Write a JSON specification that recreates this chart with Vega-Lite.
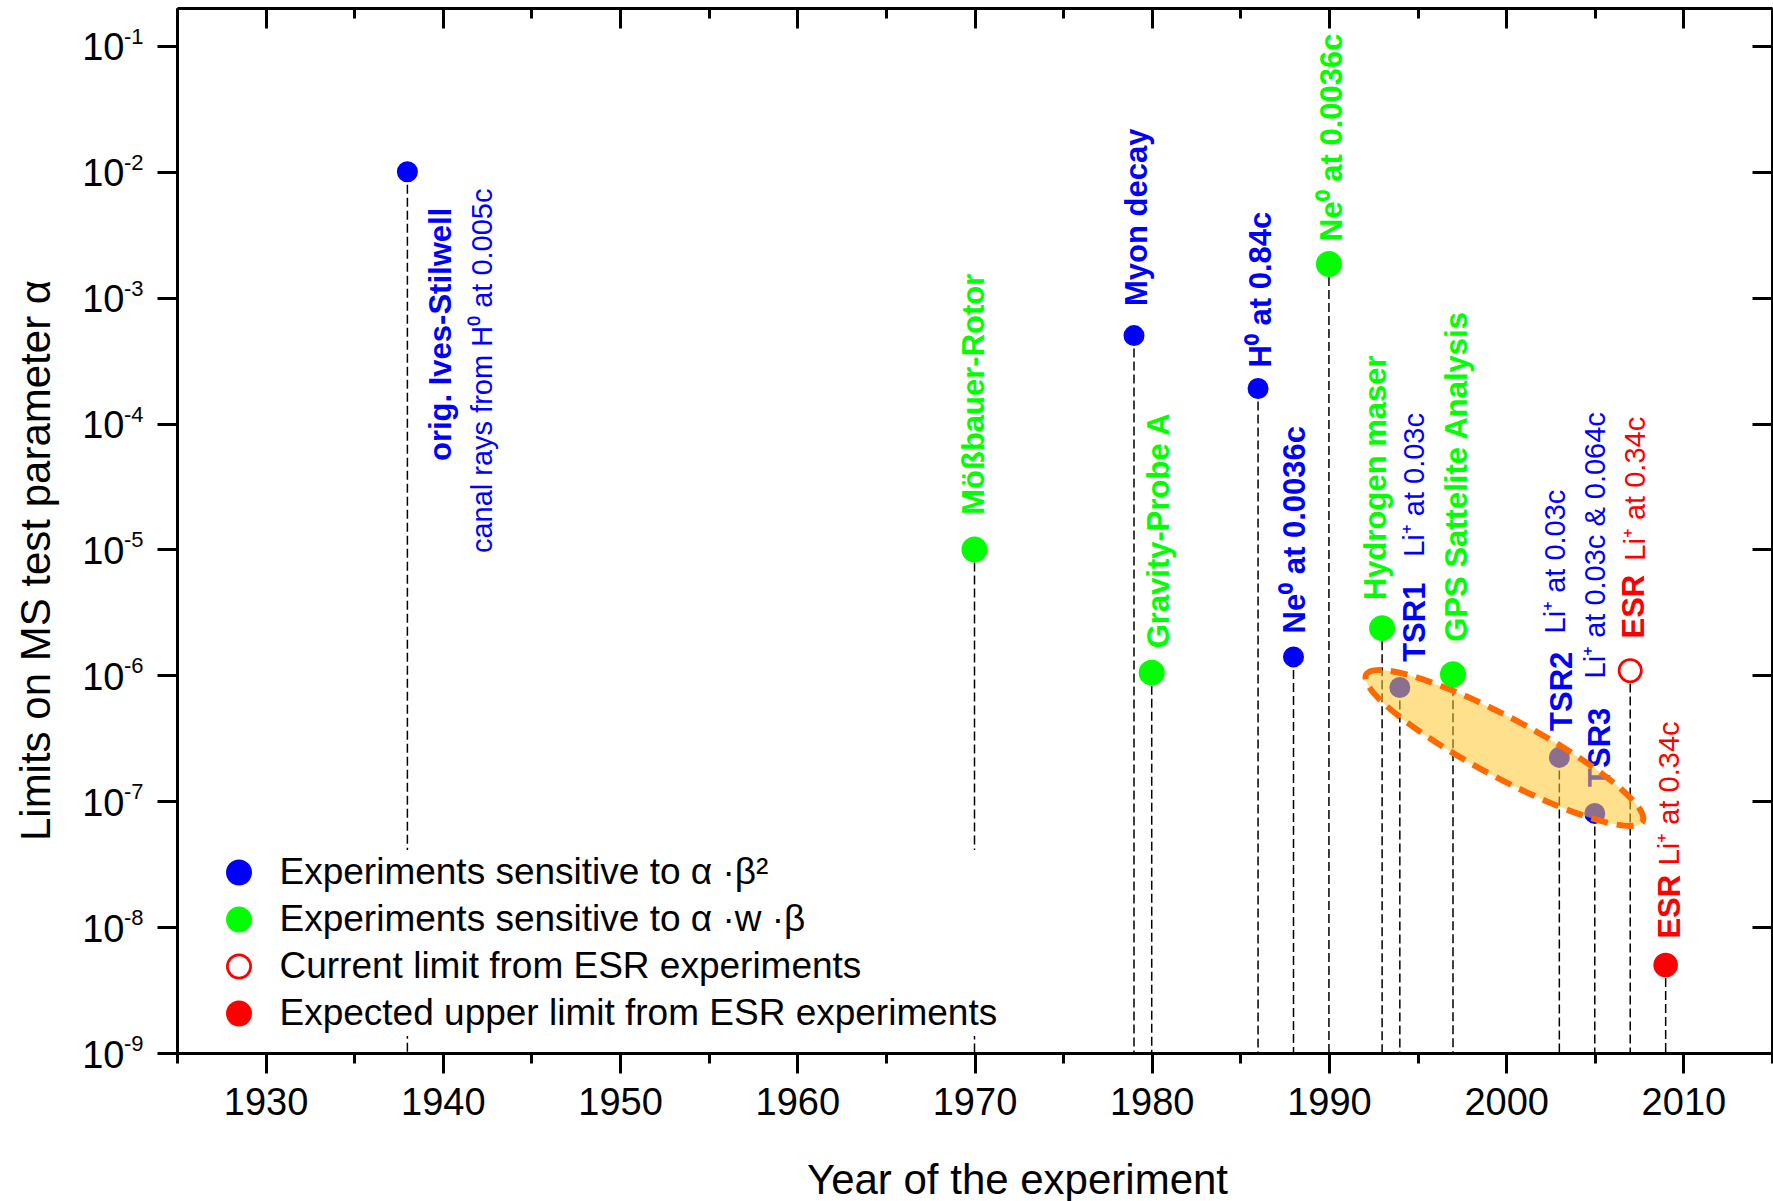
{
  "$schema": "https://vega.github.io/schema/vega-lite/v6.json",
  "width": 1595,
  "height": 1045,
  "autosize": {"type": "none"},
  "padding": {"left": 177, "top": 8, "right": 1, "bottom": 148},
  "background": "white",
  "config": {
    "view": {"stroke": null},
    "font": "Liberation Sans",
    "axis": {
      "grid": false, "domainColor": "black", "domainWidth": 3, "tickColor": "black", "tickWidth": 3,
      "labelColor": "black", "titleColor": "black", "labelFont": "Liberation Sans", "titleFont": "Liberation Sans",
      "titleFontWeight": "normal", "labelOverlap": false, "labelBound": false, "labelFlush": false
    },
    "legend": {
      "labelFontSize": 37, "labelFont": "Liberation Sans", "labelColor": "black", "labelLimit": 1200,
      "symbolSize": 540, "symbolStrokeWidth": 2.7, "symbolType": "circle", "symbolOpacity": 1,
      "rowPadding": 9, "labelOffset": 22, "padding": 4
    }
  },
  "datasets": {
    "experiments": [
      {"name": "orig. Ives-Stilwell", "year": 1938, "alpha": 1e-2, "series": "Experiments sensitive to α ·β²"},
      {"name": "Mößbauer-Rotor", "year": 1970, "alpha": 1e-5, "series": "Experiments sensitive to α ·w ·β"},
      {"name": "Myon decay", "year": 1979, "alpha": 5e-4, "series": "Experiments sensitive to α ·β²"},
      {"name": "Gravity-Probe A", "year": 1980, "alpha": 1.05e-6, "series": "Experiments sensitive to α ·w ·β"},
      {"name": "H⁰ at 0.84c", "year": 1986, "alpha": 1.9e-4, "series": "Experiments sensitive to α ·β²"},
      {"name": "Ne⁰ at 0.0036c", "year": 1988, "alpha": 1.4e-6, "series": "Experiments sensitive to α ·β²"},
      {"name": "Ne⁰ at 0.0036c", "year": 1990, "alpha": 1.85e-3, "series": "Experiments sensitive to α ·w ·β"},
      {"name": "Hydrogen maser", "year": 1993, "alpha": 2.37e-6, "series": "Experiments sensitive to α ·w ·β"},
      {"name": "TSR1", "year": 1994, "alpha": 8e-7, "series": "Experiments sensitive to α ·β²"},
      {"name": "GPS Sattelite Analysis", "year": 1997, "alpha": 1.02e-6, "series": "Experiments sensitive to α ·w ·β"},
      {"name": "TSR2", "year": 2003, "alpha": 2.23e-7, "series": "Experiments sensitive to α ·β²"},
      {"name": "TSR3", "year": 2005, "alpha": 8e-8, "series": "Experiments sensitive to α ·β²"},
      {"name": "ESR", "year": 2007, "alpha": 1.09e-6, "series": "Current limit from ESR experiments"},
      {"name": "ESR", "year": 2009, "alpha": 5e-9, "series": "Expected upper limit from ESR experiments"}
    ],
    "labels": [
      {"text": "orig. Ives-Stilwell", "part": "name", "year": 1939.93, "alpha": 5.04e-5, "series": "Experiments sensitive to α ·β²"},
      {"text": "canal rays from H⁰ at 0.005c", "part": "detail", "year": 1942.27, "alpha": 9.35e-6, "series": "Experiments sensitive to α ·β²"},
      {"text": "Mößbauer-Rotor", "part": "name", "year": 1970.05, "alpha": 1.886e-5, "series": "Experiments sensitive to α ·w ·β"},
      {"text": "Myon decay", "part": "name", "year": 1979.21, "alpha": 8.59e-4, "series": "Experiments sensitive to α ·β²"},
      {"text": "Gravity-Probe A", "part": "name", "year": 1980.48, "alpha": 1.64e-6, "series": "Experiments sensitive to α ·w ·β"},
      {"text": "H⁰ at 0.84c", "part": "name", "year": 1986.22, "alpha": 2.79e-4, "series": "Experiments sensitive to α ·β²"},
      {"text": "Ne⁰ at 0.0036c", "part": "name", "year": 1988.13, "alpha": 2.15e-6, "series": "Experiments sensitive to α ·β²"},
      {"text": "Ne⁰ at 0.0036c", "part": "name", "year": 1990.25, "alpha": 2.82e-3, "series": "Experiments sensitive to α ·w ·β"},
      {"text": "Hydrogen maser", "part": "name", "year": 1992.72, "alpha": 3.96e-6, "series": "Experiments sensitive to α ·w ·β"},
      {"text": "TSR1", "part": "name", "year": 1994.9, "alpha": 1.28e-6, "series": "Experiments sensitive to α ·β²"},
      {"text": "Li⁺ at 0.03c", "part": "detail", "year": 1994.87, "alpha": 8.73e-6, "series": "Experiments sensitive to α ·β²"},
      {"text": "GPS Sattelite Analysis", "part": "name", "year": 1997.31, "alpha": 1.85e-6, "series": "Experiments sensitive to α ·w ·β"},
      {"text": "TSR2", "part": "name", "year": 2003.18, "alpha": 3.62e-7, "series": "Experiments sensitive to α ·β²"},
      {"text": "Li⁺ at 0.03c", "part": "detail", "year": 2002.83, "alpha": 2.15e-6, "series": "Experiments sensitive to α ·β²"},
      {"text": "TSR3", "part": "name", "year": 2005.34, "alpha": 1.3e-7, "series": "Experiments sensitive to α ·β²"},
      {"text": "Li⁺ at 0.03c & 0.064c", "part": "detail", "year": 2005.09, "alpha": 9.44e-7, "series": "Experiments sensitive to α ·β²"},
      {"text": "ESR", "part": "name", "year": 2007.29, "alpha": 1.96e-6, "series": "Current limit from ESR experiments"},
      {"text": "Li⁺ at 0.34c", "part": "detail", "year": 2007.32, "alpha": 8.15e-6, "series": "Current limit from ESR experiments"},
      {"text": "ESR", "part": "name", "year": 2009.31, "alpha": 8.11e-9, "series": "Expected upper limit from ESR experiments"},
      {"text": "Li⁺ at 0.34c", "part": "detail", "year": 2009.23, "alpha": 3.1e-8, "series": "Expected upper limit from ESR experiments"}
    ],
    "decades": [
      {"alpha": 1e-1, "exp": "-1"}, {"alpha": 1e-2, "exp": "-2"}, {"alpha": 1e-3, "exp": "-3"},
      {"alpha": 1e-4, "exp": "-4"}, {"alpha": 1e-5, "exp": "-5"}, {"alpha": 1e-6, "exp": "-6"},
      {"alpha": 1e-7, "exp": "-7"}, {"alpha": 1e-8, "exp": "-8"}, {"alpha": 1e-9, "exp": "-9"}
    ],
    "highlight": [
      {"region": "TSR measurements", "year": 1999.9, "alpha": 2.65e-7}
    ]
  },
  "resolve": {"axis": {"x": "independent", "y": "independent"}},
  "layer": [
    {
      "data": {"name": "experiments"},
      "mark": {"type": "rule", "color": "black", "strokeWidth": 1.5, "strokeDash": [9, 4]},
      "encoding": {
        "x": {
          "field": "year", "type": "quantitative",
          "scale": {"domain": [1925, 2015], "nice": false, "zero": false},
          "axis": {
            "orient": "bottom", "values": [1930, 1940, 1950, 1960, 1970, 1980, 1990, 2000, 2010],
            "format": "d", "tickSize": 20, "labelFontSize": 38, "labelPadding": 11,
            "title": "Year of the experiment", "titleFontSize": 42, "titleX": 840, "titleY": 140,
            "titleBaseline": "alphabetic", "titleAlign": "center"
          }
        },
        "y": {
          "field": "alpha", "type": "quantitative",
          "scale": {"type": "log", "domain": [1e-9, 0.2], "nice": false},
          "axis": {
            "orient": "left", "values": [1e-1, 1e-2, 1e-3, 1e-4, 1e-5, 1e-6, 1e-7, 1e-8, 1e-9],
            "tickSize": 20, "labelExpr": "'10'", "labelFontSize": 38, "labelPadding": 33, "labelOffset": 3,
            "title": "Limits on MS test parameter α", "titleFontSize": 42, "titleX": -141, "titleY": 552,
            "titleBaseline": "middle", "titleAngle": 270, "titleAlign": "center"
          }
        },
        "y2": {"datum": 1e-9}
      }
    },
    {
      "data": {"name": "decades"},
      "mark": {"type": "text", "fontSize": 22, "align": "left", "baseline": "alphabetic", "dx": -53, "dy": -2, "color": "black", "font": "Liberation Sans"},
      "encoding": {
        "x": {"datum": 1925, "type": "quantitative", "axis": null},
        "y": {"field": "alpha", "type": "quantitative", "axis": null},
        "text": {"field": "exp"}
      }
    },
    {
      "data": {"name": "experiments"},
      "transform": [{"filter": "datum.series === 'Experiments sensitive to α ·β²'"}],
      "mark": {"type": "point", "filled": true, "size": 335, "strokeWidth": 2.7, "opacity": 1},
      "encoding": {
        "x": {
          "field": "year", "type": "quantitative",
          "axis": {"orient": "top", "values": [1930, 1940, 1950, 1960, 1970, 1980, 1990, 2000, 2010], "tickSize": -20, "labels": false, "title": null}
        },
        "y": {
          "field": "alpha", "type": "quantitative",
          "axis": {"orient": "right", "values": [1e-1, 1e-2, 1e-3, 1e-4, 1e-5, 1e-6, 1e-7, 1e-8, 1e-9], "tickSize": -20, "labels": false, "title": null}
        },
        "fill": {
          "field": "series", "type": "nominal",
          "scale": {"domain": ["Experiments sensitive to α ·β²", "Experiments sensitive to α ·w ·β", "Current limit from ESR experiments", "Expected upper limit from ESR experiments"], "range": ["#0000ff", "#00ff00", "#ffffff", "#ff0000"]},
          "legend": {"orient": "none", "legendX": 39.5, "legendY": 842, "title": null, "fillColor": "white", "direction": "vertical"}
        },
        "stroke": {
          "field": "series", "type": "nominal",
          "scale": {"domain": ["Experiments sensitive to α ·β²", "Experiments sensitive to α ·w ·β", "Current limit from ESR experiments", "Expected upper limit from ESR experiments"], "range": ["#0000ff", "#00ff00", "#ff0000", "#ff0000"]},
          "legend": {"orient": "none", "legendX": 39.5, "legendY": 842, "title": null, "fillColor": "white", "direction": "vertical"}
        }
      }
    },
    {
      "data": {"name": "labels"},
      "transform": [{"filter": "datum.part === 'name'"}],
      "mark": {"type": "text", "angle": 270, "align": "left", "baseline": "middle", "fontSize": 31, "fontWeight": "bold", "font": "Liberation Sans"},
      "encoding": {
        "x": {
          "field": "year", "type": "quantitative",
          "axis": {"orient": "bottom", "values": [1925, 1935, 1945, 1955, 1965, 1975, 1985, 1995, 2005, 2015], "tickSize": 10, "labels": false, "domain": false, "title": null}
        },
        "y": {"field": "alpha", "type": "quantitative", "axis": null},
        "text": {"field": "text"},
        "color": {"field": "series", "type": "nominal", "scale": {"domain": ["Experiments sensitive to α ·β²", "Experiments sensitive to α ·w ·β", "Current limit from ESR experiments", "Expected upper limit from ESR experiments"], "range": ["#0000ff", "#00ff00", "#ff0000", "#ff0000"]}, "legend": null}
      }
    },
    {
      "data": {"name": "labels"},
      "transform": [{"filter": "datum.part === 'detail'"}],
      "mark": {"type": "text", "angle": 270, "align": "left", "baseline": "middle", "fontSize": 29, "fontWeight": "normal", "font": "Liberation Sans"},
      "encoding": {
        "x": {
          "field": "year", "type": "quantitative",
          "axis": {"orient": "top", "values": [1925, 1935, 1945, 1955, 1965, 1975, 1985, 1995, 2005, 2015], "tickSize": -10, "labels": false, "domain": false, "title": null}
        },
        "y": {"field": "alpha", "type": "quantitative", "axis": null},
        "text": {"field": "text"},
        "color": {"field": "series", "type": "nominal", "legend": null}
      }
    },
    {
      "data": {"name": "highlight"},
      "mark": {
        "type": "point", "shape": "M -1 0 A 1 0.19 0 1 1 1 0 A 1 0.19 0 1 1 -1 0 Z",
        "size": 98000, "angle": 28, "filled": true, "fill": "#ffc830", "fillOpacity": 0.55,
        "stroke": "#ff6a00", "strokeWidth": 6, "strokeDash": [17, 9], "strokeOpacity": 1, "opacity": 1
      },
      "encoding": {
        "x": {"field": "year", "type": "quantitative", "axis": null},
        "y": {"field": "alpha", "type": "quantitative", "axis": null}
      }
    },
    {
      "data": {"name": "experiments"},
      "transform": [{"filter": "datum.series === 'Experiments sensitive to α ·w ·β'"}],
      "mark": {"type": "point", "filled": true, "size": 543, "strokeWidth": 2.7, "opacity": 1},
      "encoding": {
        "x": {"field": "year", "type": "quantitative", "axis": null},
        "y": {"field": "alpha", "type": "quantitative", "axis": null},
        "fill": {"field": "series", "type": "nominal"},
        "stroke": {"field": "series", "type": "nominal"}
      }
    },
    {
      "data": {"name": "experiments"},
      "transform": [{"filter": "datum.series === 'Current limit from ESR experiments'"}],
      "mark": {"type": "point", "filled": true, "size": 497, "strokeWidth": 2.7, "opacity": 1},
      "encoding": {
        "x": {"field": "year", "type": "quantitative", "axis": null},
        "y": {"field": "alpha", "type": "quantitative", "axis": null},
        "fill": {"field": "series", "type": "nominal"},
        "stroke": {"field": "series", "type": "nominal"}
      }
    },
    {
      "data": {"name": "experiments"},
      "transform": [{"filter": "datum.series === 'Expected upper limit from ESR experiments'"}],
      "mark": {"type": "point", "filled": true, "size": 480, "strokeWidth": 2.7, "opacity": 1},
      "encoding": {
        "x": {"field": "year", "type": "quantitative", "axis": null},
        "y": {"field": "alpha", "type": "quantitative", "axis": null},
        "fill": {"field": "series", "type": "nominal"},
        "stroke": {"field": "series", "type": "nominal"}
      }
    }
  ]
}
